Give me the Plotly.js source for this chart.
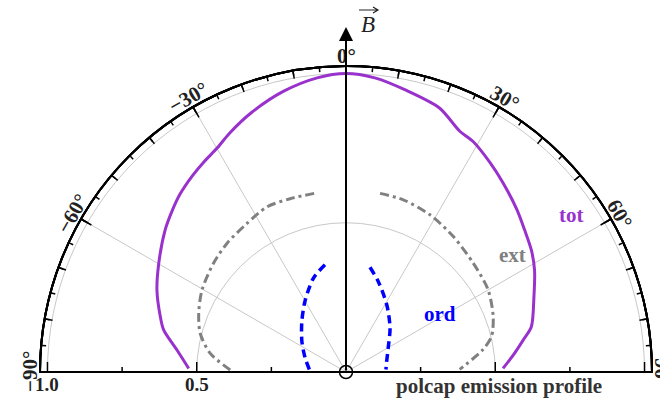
<!DOCTYPE html>
<html>
<head>
<meta charset="utf-8">
<script src="https://cdn.plot.ly/plotly-3.0.1.min.js"></script>
<style>html,body{margin:0;padding:0;background:#fff;}#chart{width:660px;height:399px;}</style>
</head>
<body>
<div id="chart"></div>
<script>
// Polar-cap emission profile: total, extraordinary and ordinary components
// (angle from the magnetic field B, normalised intensity)
const totTheta = [-88.7, -82.6, -77, -73.4, -66.6, -59.9, -51.9, -47, -43, -38, -34, -30, -26, -20, -12.6, -5.6, 0,
                  5.6, 12, 19.5, 25.3, 28.8, 34.4, 39.6, 46.4, 51.6, 56.7, 61.6, 68.2, 76.3, 79.8, 84, 88.7];
const totR     = [0.527, 0.571, 0.627, 0.649, 0.69, 0.725, 0.77, 0.795, 0.815, 0.835, 0.85, 0.865, 0.89, 0.925, 0.963, 0.99, 1.0,
                  0.99, 0.965, 0.938, 0.892, 0.882, 0.852, 0.824, 0.79, 0.764, 0.743, 0.718, 0.678, 0.639, 0.603, 0.565, 0.526];

const extLeftTheta  = [-89, -82.2, -75.2, -68.3, -60.4, -50.7, -42.8, -33.7, -25.6, -17.9, -9.3];
const extLeftR      = [0.388, 0.459, 0.505, 0.531, 0.555, 0.574, 0.587, 0.598, 0.613, 0.61, 0.608];
const extRightTheta = [10.8, 18.4, 28.1, 38.3, 49.4, 59.9, 69.3, 76.2, 80.7, 88.7];
const extRightR     = [0.609, 0.608, 0.597, 0.579, 0.561, 0.55, 0.527, 0.502, 0.465, 0.381];

const ordLeftTheta  = [-86.1, -70.9, -55.2, -41.1, -30.1, -19.1, -11.1];
const ordLeftR      = [0.123, 0.145, 0.18, 0.225, 0.274, 0.333, 0.366];
const ordRightTheta = [12.9, 19.6, 31.1, 44.9, 60.2, 75.1, 86.4];
const ordRightR     = [0.36, 0.322, 0.264, 0.209, 0.163, 0.141, 0.134];

const angleTicks   = [-90, -60, -30, 0, 30, 60, 90];
const radialMajor  = [0.5, 1.0];
const radialLabels = ['0.5', '1.0'];
const radialMinor  = [0.25, 0.75];
const rMax = 1.025;

const serif = 'Liberation Serif, Times New Roman, serif';
const colTot = '#9932cc', colExt = '#808080', colOrd = '#0000ff';

const traces = [
  {type: 'scatterpolar', subplot: 'polar', mode: 'lines', r: totR, theta: totTheta,
   line: {color: colTot, width: 3, shape: 'spline', smoothing: 0.8}},
  {type: 'scatterpolar', subplot: 'polar', mode: 'lines', r: extLeftR, theta: extLeftTheta,
   line: {color: colExt, width: 3, dash: '9px,4px,3px,4px', shape: 'spline', smoothing: 0.8}},
  {type: 'scatterpolar', subplot: 'polar', mode: 'lines', r: extRightR, theta: extRightTheta,
   line: {color: colExt, width: 3, dash: '9px,4px,3px,4px', shape: 'spline', smoothing: 0.8}},
  {type: 'scatterpolar', subplot: 'polar', mode: 'lines', r: ordLeftR, theta: ordLeftTheta,
   line: {color: colOrd, width: 3.5, dash: '8px,5px', shape: 'spline', smoothing: 0.8}},
  {type: 'scatterpolar', subplot: 'polar', mode: 'lines', r: ordRightR, theta: ordRightTheta,
   line: {color: colOrd, width: 3.5, dash: '8px,5px', shape: 'spline', smoothing: 0.8}},
  // origin marker
  {type: 'scatterpolar', subplot: 'polar', mode: 'markers', r: [0], theta: [0], cliponaxis: false,
   marker: {symbol: 'circle-open', size: 13, color: 'black', line: {width: 1.5, color: 'black'}}},
  // overlay subplots that only carry extra tick sets
  {type: 'scatterpolar', subplot: 'polar2', r: [], theta: []},
  {type: 'scatterpolar', subplot: 'polar3', r: [], theta: []},
  {type: 'scatterpolar', subplot: 'polar4', r: [], theta: []}
];

function angular(dtick, len, grid) {
  return {
    rotation: 90, direction: 'clockwise', thetaunit: 'degrees',
    tickmode: 'linear', tick0: 0, dtick: dtick,
    ticks: len ? 'inside' : '', ticklen: len, tickwidth: 1.5, tickcolor: 'black',
    showticklabels: false,
    showline: true, linecolor: 'black', linewidth: 2,
    showgrid: grid, gridcolor: '#c8c8c8', gridwidth: 1
  };
}
function radial(angle, side, vals, len, grid) {
  return {
    angle: angle, side: side, range: [0, rMax],
    tickmode: 'array', tickvals: vals, showticklabels: false,
    ticks: 'inside', ticklen: len, tickwidth: 1.5, tickcolor: 'black',
    showline: true, linecolor: 'black', linewidth: 2,
    showgrid: grid, gridcolor: '#c8c8c8', gridwidth: 1
  };
}
const dom = {x: [0, 1], y: [0, 1]};
const clear = 'rgba(0,0,0,0)';

// plot-area geometry (pixels): half-disc of radius plotR centred at the bottom middle
const M = {l: 40, r: 8, t: 66, b: 27};
const plotW = 660 - M.l - M.r, plotH = 399 - M.t - M.b;
const plotR = plotH;                      // radius of the outer arc (r = rMax)
const cx = M.l + plotW / 2, cy = 399 - M.b;
const paperX = p => (p - M.l) / plotW;    // pixel -> paper coordinates
const paperY = p => (cy - p) / plotH;

// tangential angle labels around the outer arc
const labelRadius = plotR + 10;
const annotations = angleTicks.map(a => ({
  xref: 'paper', yref: 'paper', x: 0.5, y: 0,
  xshift: labelRadius * Math.sin(a * Math.PI / 180),
  yshift: labelRadius * Math.cos(a * Math.PI / 180),
  text: (a < 0 ? '\u2212' + (-a) : String(a)) + '°',
  textangle: a, showarrow: false, xanchor: 'center', yanchor: 'middle',
  font: {family: serif, size: 21, color: '#222', weight: 'bold'}
}));

// radial labels under the left half of the baseline, placed on the radial scale
radialMajor.forEach((v, i) => annotations.push({
  xref: 'paper', yref: 'paper', x: 0.5, y: 0,
  xshift: -v / rMax * plotR, yshift: -12,
  text: radialLabels[i], showarrow: false, xanchor: 'center', yanchor: 'middle',
  font: {family: serif, size: 19, color: '#222', weight: 'bold'}
}));

// field direction arrow along 0°
annotations.push({
  xref: 'paper', yref: 'paper', x: 0.5, y: 345 / plotH, ax: 0, ay: 345,
  text: '', showarrow: true, arrowhead: 2, arrowsize: 1.4, arrowwidth: 2, arrowcolor: 'black'
});
annotations.push({xref: 'paper', yref: 'paper', x: paperX(368), y: paperY(24),
  text: '<i>B</i>', showarrow: false, xanchor: 'center', yanchor: 'middle',
  font: {family: serif, size: 23, color: '#222'}});

// vector arrow drawn over the B
const vx0 = 359, vx1 = 378, vy = 10;
const shapes = [{
  type: 'path', xref: 'paper', yref: 'paper',
  path: `M${paperX(vx0)},${paperY(vy)} L${paperX(vx1)},${paperY(vy)} ` +
        `M${paperX(vx1 - 5)},${paperY(vy - 3)} L${paperX(vx1)},${paperY(vy)} L${paperX(vx1 - 5)},${paperY(vy + 3)}`,
  line: {color: '#222', width: 1.2}
}];

// curve labels and caption
const textLabels = [
  {t: 'tot', c: colTot, x: 571, y: 215},
  {t: 'ext', c: colExt, x: 512, y: 255},
  {t: 'ord', c: colOrd, x: 440, y: 314},
  {t: 'polcap emission profile', c: '#333', x: 499, y: 386, s: 21}
];
textLabels.forEach(l => annotations.push({
  xref: 'paper', yref: 'paper', x: paperX(l.x), y: paperY(l.y),
  text: l.t, showarrow: false, xanchor: 'center', yanchor: 'middle',
  font: {family: serif, size: l.s || 21, color: l.c, weight: 'bold'}
}));

const layout = {
  width: 660, height: 399,
  margin: {l: M.l, r: M.r, t: M.t, b: M.b, pad: 0},
  paper_bgcolor: 'white',
  showlegend: false,
  polar:  {domain: dom, sector: [0, 180], bgcolor: 'white',
           angularaxis: angular(30, 11, true),
           radialaxis: radial(180, 'counterclockwise', radialMajor, 9, true)},
  polar2: {domain: dom, sector: [0, 180], bgcolor: clear,
           angularaxis: angular(10, 7, false),
           radialaxis: radial(180, 'counterclockwise', radialMinor, 4, false)},
  polar3: {domain: dom, sector: [0, 180], bgcolor: clear,
           angularaxis: angular(5, 4, false),
           radialaxis: radial(0, 'clockwise', radialMajor, 9, false)},
  polar4: {domain: dom, sector: [0, 180], bgcolor: clear,
           angularaxis: angular(30, 0, false),
           radialaxis: radial(0, 'clockwise', radialMinor, 4, false)},
  shapes: shapes,
  annotations: annotations
};

Plotly.newPlot('chart', traces, layout, {staticPlot: true, displayModeBar: false});
</script>
</body>
</html>
